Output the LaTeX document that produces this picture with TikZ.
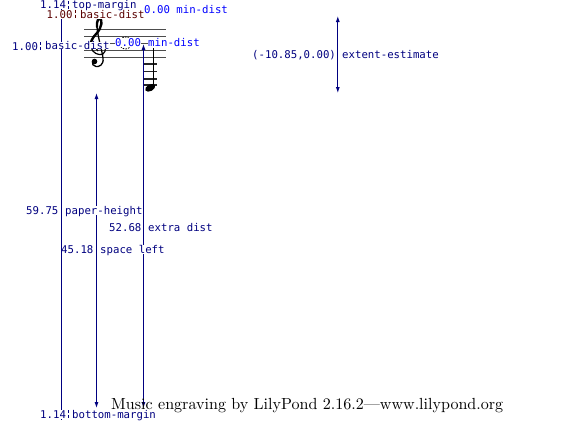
\documentclass[tikz,border=0pt]{standalone}
\usepackage{graphicx}
\usepackage{fontspec}
\setmonofont{DejaVu Sans Mono}
\usetikzlibrary{arrows.meta}
\definecolor{lbl}{HTML}{000080}
\definecolor{mind}{HTML}{0000FF}
\definecolor{bas}{HTML}{5A0000}
\tikzset{
  x=1pt,y=-1pt,
  lab/.style={anchor=base west,inner sep=0pt,fill=white,text height=8.5pt,text depth=0.5pt,text=lbl,font=\ttfamily\fontsize{10.7}{12}\selectfont},
  dim/.style={draw=lbl,line width=0.9pt,{Latex[length=6pt,width=4pt]}-{Latex[length=6pt,width=4pt]}},
  tickmark/.style={draw=lbl,line width=0.9pt},
  staffline/.style={draw=black!70,line width=0.8pt},
  ledger/.style={draw=black!85,line width=1.1pt}
}
\newcommand{\splitmark}[3][lbl]{\draw[tickmark,draw=#1] (#2,#3-4.5) -- (#2,#3-1.5) (#2,#3+0.5) -- (#2,#3+3.5);}
\begin{document}
\begin{tikzpicture}
\useasboundingbox (0,0) rectangle (574,421);
% staff
\foreach \yy in {29,36,43,50,57}{\draw[staffline] (84,\yy) -- (166,\yy);}
\draw[black,line width=0.8pt,dash pattern=on 1.6pt off 1.2pt] (125.5,43) circle (6pt);
% note
\foreach \yy in {64,71.5,79,85}{\draw[ledger] (143,\yy) -- (156.5,\yy);}
\draw[black,line width=1.1pt] (153.8,48) -- (153.8,86);
\fill[black,rotate around={28:(150.2,87.8)}] (150.2,87.8) ellipse (5.4pt and 3.3pt);
% clef
\draw[black,line width=2.4pt,line cap=round] (97,27) .. controls (96.5,21) and (98.5,18) .. (100,18.5) .. controls (102.5,20) and (102,27) .. (97,33) .. controls (92,38) and (90,42) .. (91,47);
\draw[black,line width=1.2pt] (91,47) .. controls (92,53) and (99,56) .. (103,54) .. controls (107,51) and (106,44) .. (100,44) .. controls (96,44) and (95,49) .. (98,51);
\draw[black,line width=1.3pt] (97,27) .. controls (98,38) and (102,50) .. (103,58) .. controls (104,65) and (99,67) .. (96,66.5) .. controls (93,66) and (92,64) .. (92.5,62);
\fill[black] (94.5,61.5) circle (2.8pt);
% dimension lines
\coordinate (ptop) at (96.5,93);
\coordinate (pbot) at (96.5,408);
\draw[dim] (ptop) -- (pbot);
\coordinate (qtop) at (143.5,44);
\coordinate (qbot) at (143.5,408);
\draw[dim] (qtop) -- (qbot);
\coordinate (etop) at (337.8,16);
\coordinate (ebot) at (337.8,93);
\draw[dim] (etop) -- (ebot);
% labels
\node[lab] (p1) at (26,214) {59.75};
\node[lab] (p2) at (65,214) {paper-height};
\node[lab] (x1) at (109,231) {52.68};
\node[lab] (x2) at (148,231) {extra dist};
\node[lab] (s1) at (61,253) {45.18};
\node[lab] (s2) at (100,253) {space left};
\coordinate (ltop) at (61.5,2);
\coordinate (lbot) at (61.5,420);
\draw[draw=lbl,line width=0.9pt] (ltop) -- (lbot);
\node[lab,text=bas] (b1a) at (46.5,18) {1.00};
\node[lab,text=bas] (b1b) at (80,18) {basic-dist};
\splitmark[bas]{75}{14}
\node[lab] (t1a) at (40,8) {1.14};
\node[lab] (t1b) at (72,8) {top-margin};
\splitmark{68}{5.5}
\node[lab,text=mind] (m1a) at (144,13) {0.00 min-dist};
\node[lab] (b2a) at (12,50) {1.00};
\node[lab,text height=7pt,text depth=0pt] (b2b) at (45,49.2) {basic-dist};
\splitmark{40.5}{46.5}
\node[lab,text=mind] (m2a) at (115,46.5) {0.00};
\node[lab,text=mind] (m2b) at (148,46.5) {min-dist};
\node[lab] (e1) at (252,58) {(-10.85,0.00)};
\node[lab] (e2) at (342,58) {extent-estimate};
\node[lab] (k1) at (40,418) {1.14};
\node[lab] (k2) at (72,418) {bottom-margin};
\splitmark{68}{414.5}
\node[anchor=base west,inner sep=0pt] (foot) at (111,409) {\resizebox{392pt}{!}{\fontsize{10}{12}\selectfont Music engraving by LilyPond 2.16.2—www.lilypond.org}};
\end{tikzpicture}
\end{document}
